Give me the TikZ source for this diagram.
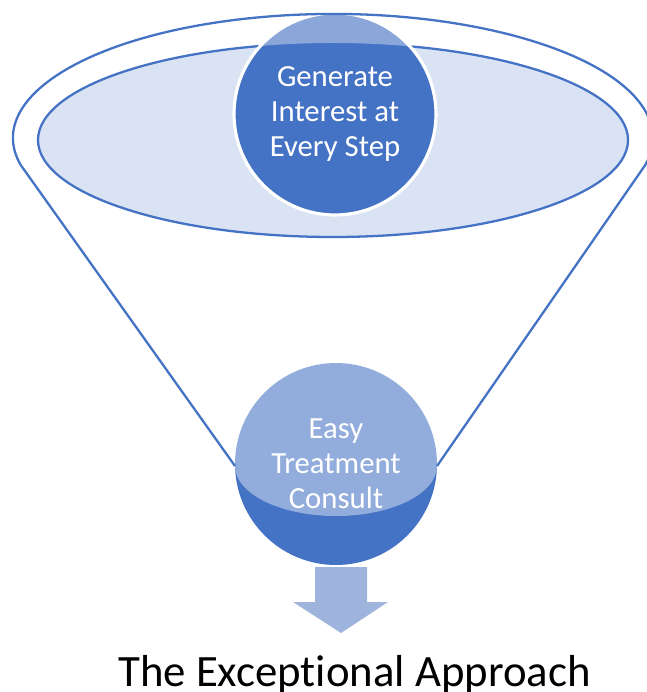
\documentclass[tikz,border=0pt]{standalone}
\usepackage{fontspec}
\setmainfont{Carlito}[Ligatures=NoCommon]
\usetikzlibrary{positioning}
\definecolor{funnelblue}{HTML}{4472C4}
\definecolor{rimfill}{HTML}{DAE3F3}
\definecolor{arrowblue}{HTML}{9EB4DC}

\begin{document}
\begin{tikzpicture}[x=0.02cm,y=-0.02cm,
  stagecircle/.style={circle,fill=funnelblue,minimum size=4.04cm,inner sep=0pt,
    text=white,align=center,font=\fontsize{17.5}{19.8}\selectfont},
  funnelline/.style={draw=funnelblue,line width=1.3pt}]
\useasboundingbox (0,0) rectangle (646,692);
\coordinate (rimL) at (20.7,165);
\coordinate (rimR) at (645.3,165);
\coordinate (neckL) at (235,466);
\coordinate (neckR) at (437,466);
% lower stage
\node[stagecircle] (consult) at (336,464) {Easy\\Treatment\\Consult};
% funnel body
\fill[white,fill opacity=.42] (rimL) arc[start angle=167.4,end angle=372.6,x radius=320,y radius=124]
  -- (neckR) arc[start angle=0,end angle=180,x radius=101,y radius=50] -- cycle;
\draw[funnelline,fill=rimfill] (333,140) ellipse[x radius=295,y radius=97];
% upper stage
\node[stagecircle,draw=white,line width=1.8pt] (interest) at (335,114) {Generate\\Interest at\\Every Step};
\begin{scope}
  \clip (interest.center) circle[radius=101];
  \fill[white,fill opacity=.38,even odd rule] (333,138) ellipse[x radius=320,y radius=124]
    (333,140) ellipse[x radius=295,y radius=97];
\end{scope}
\draw[funnelline] (neckL) -- (rimL) arc[start angle=167.4,end angle=372.6,x radius=320,y radius=124] -- (neckR);
% arrow and title
\fill[arrowblue] (315,567) -- (367,567) -- (367,602) -- (388,602) -- (341,633) -- (293,602) -- (315,602) -- cycle;
\node[font=\fontsize{25.5}{30}\selectfont,anchor=base] (title) at (354.5,686) {The Exceptional Approach};
\end{tikzpicture}
\end{document}
